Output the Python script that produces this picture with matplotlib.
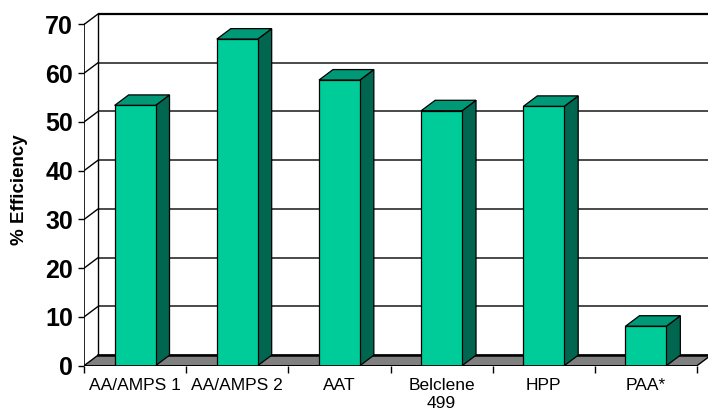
import matplotlib
matplotlib.use("Agg")
import matplotlib.pyplot as plt
from matplotlib.patches import Polygon

plt.rcParams['font.family'] = ['Liberation Sans', 'DejaVu Sans']

categories = ["AA/AMPS 1", "AA/AMPS 2", "AAT", "Belclene\n499", "HPP", "PAA*"]
values = [53.4, 67.0, 58.6, 52.3, 53.2, 8.1]
yticks = [0, 10, 20, 30, 40, 50, 60, 70]
ylabel = "% Efficiency"

front_col = "#00CC99"
top_col = "#009977"
side_col = "#006650"
floor_col = "#808080"

W, H = 708, 413
fig = plt.figure(figsize=(W / 100, H / 100), dpi=100)

# pixel geometry of the plot box
x0_px, x1_px = 84, 708
y0_px, ytop_px = 365.7, 12.0
px_per_cat = (697 - 84) / len(categories)
px_per_unit = (365.7 - 24.5) / 70.0

ax = fig.add_axes([x0_px / W, (H - y0_px) / H, (x1_px - x0_px) / W, (y0_px - ytop_px) / H])
xmin = -0.5
xmax = xmin + (x1_px - x0_px) / px_per_cat
ax.set_xlim(xmin, xmax)
ax.set_ylim(0, (y0_px - ytop_px) / px_per_unit)

n = len(categories)
dx = 14.0 / px_per_cat
dy = 10.5 / px_per_unit
bw = 0.40
ymax = yticks[-1]
xr = n - 0.5

# back wall gridlines
for v in yticks:
    if v == 0:
        continue
    col = "black" if v == ymax else "#4a4a4a"
    lw = 1.6 if v == ymax else 1.4
    ax.plot([xmin + dx, xr + dx + 1], [v + dy, v + dy], color=col, lw=lw, zorder=1, solid_capstyle='butt')
    ax.plot([xmin, xmin + dx], [v, v + dy], color="black", lw=1.0, zorder=1)

# left walls
ax.plot([xmin + dx, xmin + dx], [dy, ymax + dy], color="black", lw=1.0, zorder=1)
ax.plot([xmin, xmin], [0, ymax], color="black", lw=1.2, zorder=5)

# floor
floor = Polygon([(xmin, 0), (xr, 0), (xr + dx, dy), (xmin + dx, dy)], closed=True,
                facecolor=floor_col, edgecolor="black", lw=1.0, zorder=2)
ax.add_patch(floor)
ax.plot([xmin + dx, xr + dx], [dy, dy], color="black", lw=1.8, zorder=2)

# bars
for i, v in enumerate(values):
    l, r = i - bw / 2, i + bw / 2
    side = Polygon([(r, 0), (r + dx, dy), (r + dx, v + dy), (r, v)], closed=True,
                   facecolor=side_col, edgecolor="black", lw=0.9, zorder=3)
    top = Polygon([(l, v), (r, v), (r + dx, v + dy), (l + dx, v + dy)], closed=True,
                  facecolor=top_col, edgecolor="black", lw=0.9, zorder=3)
    ax.add_patch(side)
    ax.add_patch(top)
ax.bar(range(n), values, width=bw, color=front_col, edgecolor="black", lw=0.9, zorder=4)

# front bottom edge
ax.plot([xmin, xr], [0, 0], color="black", lw=1.2, zorder=5)

for s in ax.spines.values():
    s.set_visible(False)

ax.set_yticks(yticks)
ax.set_yticklabels([str(t) for t in yticks], fontsize=18, fontweight='bold')
ax.tick_params(axis='y', direction='out', length=4, width=1.0, pad=4)

ax.set_xticks(range(n))
ax.set_xticklabels(categories, fontsize=12.5, linespacing=1.2)
ax.tick_params(axis='x', which='major', length=0, pad=9)
ax.set_xticks([xmin + k for k in range(n + 1)], minor=True)
ax.tick_params(axis='x', which='minor', direction='out', length=5, width=1.0)

fig.text(20 / W, 1 - 190 / H, ylabel, rotation=90, fontsize=13.5, fontweight='bold',
         ha='center', va='center')

fig.savefig("out.png", dpi=100)
